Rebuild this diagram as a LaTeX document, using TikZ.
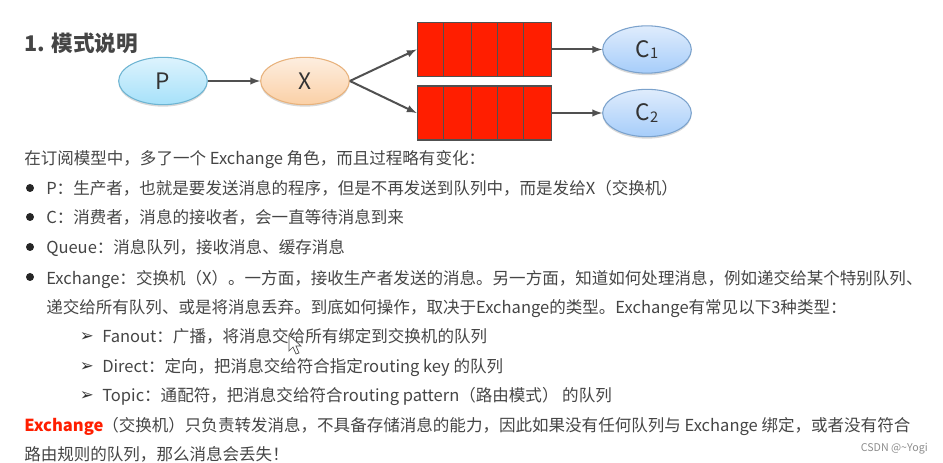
\documentclass[tikz,border=0pt]{standalone}
\usepackage{fontspec}
\setmainfont{Noto Sans CJK SC}
\newfontfamily\symfont{DejaVu Sans}
\usetikzlibrary{calc}
\usetikzlibrary{shapes.geometric}
\usetikzlibrary{shadows}
\definecolor{inkgray}{HTML}{454545}
\definecolor{linegray}{HTML}{505050}
\definecolor{queuered}{HTML}{FF1E00}
\definecolor{ptop}{HTML}{DDF3FD}
\definecolor{pbot}{HTML}{A6E1FA}
\definecolor{pedge}{HTML}{6DB4D2}
\definecolor{xtop}{HTML}{FDEEE0}
\definecolor{xbot}{HTML}{FBD0A6}
\definecolor{xedge}{HTML}{E8B27C}
\definecolor{ctop}{HTML}{DFECFC}
\definecolor{cbot}{HTML}{A6CDFA}
\definecolor{cedge}{HTML}{7BA2CC}
\tikzset{
  line/.style={anchor=base west, inner sep=0pt, text=inkgray, font=\fontsize{12.4}{14}\selectfont},
  role/.style={ellipse, minimum width=66.5pt, minimum height=35.5pt, inner sep=0pt, line width=0.8pt, text=black!80,
    font=\fontsize{17}{20}\selectfont, drop shadow={opacity=0.3, shadow xshift=0pt, shadow yshift=-1.5pt}},
  queue/.style={rectangle, draw=linegray, fill=queuered, line width=0.8pt, minimum width=101pt, minimum height=40.5pt, inner sep=0pt},
  flow/.style={draw=linegray, line width=1.5pt, -latex},
  dot/.style={circle, fill=black!85, minimum size=6pt, inner sep=0pt},
  pointer/.style={anchor=base west, inner sep=0pt, text=black!80, font=\symfont\fontsize{12.5}{14}\selectfont}
}
\begin{document}
\begin{tikzpicture}[x=0.75pt, y=-0.75pt]
\useasboundingbox (0,0) rectangle (943,463);

\node[anchor=base west, inner sep=0pt, text=inkgray, font=\fontsize{16.2}{19}\bfseries\selectfont] (title) at (24,52) {1. 模式说明};

% top row
\node[role, draw=pedge, top color=ptop, bottom color=pbot] (p) at (163,81) {P};
\node[role, draw=xedge, top color=xtop, bottom color=xbot] (x) at (305,81) {X};
\node[queue] (q1) at (484.5,49.5) {};
\node[queue] (q2) at (484.5,113) {};
\node[role, draw=cedge, top color=ctop, bottom color=cbot] (c1) at (647,49.5) {C{\fontsize{11}{12}\selectfont\raisebox{-1pt}{1}}};
\node[role, draw=cedge, top color=ctop, bottom color=cbot] (c2) at (647,113) {C{\fontsize{11}{12}\selectfont\raisebox{-1pt}{2}}};

\foreach \q in {q1,q2}
  \foreach \cell in {0.2,0.4,0.593,0.79}
    \draw[linegray, line width=0.6pt] ($(\q.south west)!\cell!(\q.south east)$) -- ($(\q.north west)!\cell!(\q.north east)$);

\draw[flow] (p) -- (x);
\draw[flow] (x.east) -- (q1.west);
\draw[flow] (x.east) -- (q2.west);
\draw[flow] (q1) -- (c1);
\draw[flow] (q2) -- (c2);

% text
\node[line] (intro) at (24,164.5) {在订阅模型中，多了一个 Exchange 角色，而且过程略有变化：};

\node[dot] (dotp) at (30,188) {};
\node[line] (linep) at (46,194.5) {P：生产者，也就是要发送消息的程序，但是不再发送到队列中，而是发给X（交换机）};
\node[dot] (dotc) at (30,217) {};
\node[line] (linec) at (46,223.5) {C：消费者，消息的接收者，会一直等待消息到来};
\node[dot] (dotq) at (30,247) {};
\node[line] (lineq) at (46,253.5) {Queue：消息队列，接收消息、缓存消息};
\node[dot] (dotx) at (30,277) {};
\node[line] (linex) at (46,284.5) {Exchange：交换机（X）。一方面，接收生产者发送的消息。另一方面，知道如何处理消息，例如递交给某个特别队列、};
\node[line] (linexb) at (46,313.5) {递交给所有队列、或是将消息丢弃。到底如何操作，取决于Exchange的类型。Exchange有常见以下3种类型：};

\node[pointer] (ptrf) at (79.5,342) {➢};
\node[line] (linef) at (102,342.5) {Fanout：广播，将消息交给所有绑定到交换机的队列};
\node[pointer] (ptrd) at (79.5,372) {➢};
\node[line] (lined) at (102,372.5) {Direct：定向，把消息交给符合指定routing key 的队列};
\node[pointer] (ptrt) at (79.5,401) {➢};
\node[line] (linet) at (102,401.5) {Topic：通配符，把消息交给符合routing pattern（路由模式） 的队列};

\node[line, text=queuered, font=\fontsize{12.4}{14}\bfseries\selectfont] (warn) at (24,431.5) {Exchange};
\node[line] (warna) at (102,431.5) {（交换机）只负责转发消息，不具备存储消息的能力，因此如果没有任何队列与 Exchange 绑定，或者没有符合};
\node[line] (warnb) at (24,460) {路由规则的队列，那么消息会丢失！};

\node[anchor=base east, inner sep=0pt, text=black!45, font=\fontsize{8}{10}\selectfont] (mark) at (928,451) {CSDN @\textasciitilde Yogi};

% mouse cursor
\draw[black!70, fill=white, line width=0.5pt] (289,335) -- (289,351) -- (293,347) -- (296,354) -- (299,353) -- (296,346) -- (301,346) -- cycle;
\end{tikzpicture}
\end{document}
